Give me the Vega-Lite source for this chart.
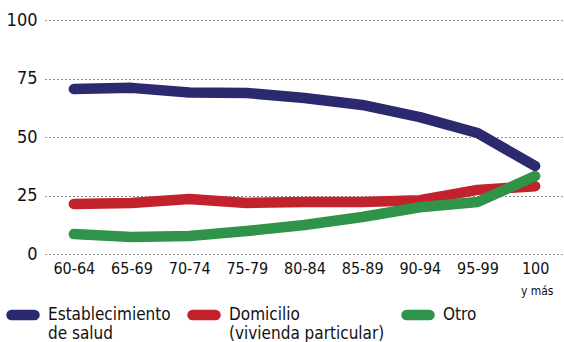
{
  "$schema": "https://vega.github.io/schema/vega-lite/v6.json",
  "width": 519,
  "height": 234,
  "autosize": "none",
  "padding": {"left": 45, "top": 20, "right": 0, "bottom": 88},
  "background": "white",
  "config": {
    "view": {"stroke": null},
    "font": "DejaVu Sans Condensed"
  },
  "data": {
    "values": [
      {"edad": "60-64", "serie": "Establecimiento de salud", "valor": 70.5},
      {"edad": "65-69", "serie": "Establecimiento de salud", "valor": 71},
      {"edad": "70-74", "serie": "Establecimiento de salud", "valor": 69},
      {"edad": "75-79", "serie": "Establecimiento de salud", "valor": 68.8},
      {"edad": "80-84", "serie": "Establecimiento de salud", "valor": 66.7},
      {"edad": "85-89", "serie": "Establecimiento de salud", "valor": 63.7},
      {"edad": "90-94", "serie": "Establecimiento de salud", "valor": 58.5},
      {"edad": "95-99", "serie": "Establecimiento de salud", "valor": 51.7},
      {"edad": "100", "serie": "Establecimiento de salud", "valor": 37.6},
      {"edad": "60-64", "serie": "Domicilio (vivienda particular)", "valor": 21.4},
      {"edad": "65-69", "serie": "Domicilio (vivienda particular)", "valor": 21.8},
      {"edad": "70-74", "serie": "Domicilio (vivienda particular)", "valor": 23.5},
      {"edad": "75-79", "serie": "Domicilio (vivienda particular)", "valor": 21.8},
      {"edad": "80-84", "serie": "Domicilio (vivienda particular)", "valor": 22.2},
      {"edad": "85-89", "serie": "Domicilio (vivienda particular)", "valor": 22.2},
      {"edad": "90-94", "serie": "Domicilio (vivienda particular)", "valor": 23},
      {"edad": "95-99", "serie": "Domicilio (vivienda particular)", "valor": 27.4},
      {"edad": "100", "serie": "Domicilio (vivienda particular)", "valor": 29},
      {"edad": "60-64", "serie": "Otro", "valor": 8.5},
      {"edad": "65-69", "serie": "Otro", "valor": 7.3},
      {"edad": "70-74", "serie": "Otro", "valor": 7.7},
      {"edad": "75-79", "serie": "Otro", "valor": 9.8},
      {"edad": "80-84", "serie": "Otro", "valor": 12.4},
      {"edad": "85-89", "serie": "Otro", "valor": 15.8},
      {"edad": "90-94", "serie": "Otro", "valor": 20},
      {"edad": "95-99", "serie": "Otro", "valor": 22.2},
      {"edad": "100", "serie": "Otro", "valor": 33.3}
    ]
  },
  "layer": [
    {
      "mark": {"type": "line", "strokeWidth": 10.5, "strokeCap": "round", "strokeJoin": "round"},
      "encoding": {
        "x": {
          "field": "edad", "type": "ordinal", "sort": null,
          "scale": {"type": "point", "padding": 0.5, "domain": ["60-64", "65-69", "70-74", "75-79", "80-84", "85-89", "90-94", "95-99", "100"]},
          "axis": {
            "title": null, "domain": false, "ticks": false, "grid": false,
            "labelAngle": 0, "labelFontSize": 16, "labelColor": "#111", "labelPadding": 6
          }
        },
        "y": {
          "field": "valor", "type": "quantitative",
          "scale": {"domain": [0, 100]},
          "axis": {
            "title": null, "values": [0, 25, 50, 75, 100], "domain": false, "ticks": false,
            "grid": true, "gridColor": "#222", "gridDash": [1, 3], "gridWidth": 1,
            "labelFontSize": 18, "labelColor": "#111", "labelPadding": 8
          }
        },
        "color": {
          "field": "serie", "type": "nominal", "sort": null,
          "scale": {
            "domain": ["Establecimiento de salud", "Domicilio (vivienda particular)", "Otro"],
            "range": ["#2b2a6e", "#c1222b", "#2f944a"]
          },
          "legend": {
            "title": null, "orient": "none", "direction": "horizontal", "columns": 3,
            "legendX": -39, "legendY": 278, "gridAlign": "none", "columnPadding": 0,
            "symbolType": "stroke", "symbolStrokeWidth": 10.5, "symbolSize": 529,
            "labelFontSize": 17, "labelColor": "#111", "labelOffset": 8, "labelBaseline": "top",
            "labelLimit": 300,
            "labelExpr": "datum.label == 'Establecimiento de salud' ? ['Establecimiento','de salud'] : datum.label == 'Domicilio (vivienda particular)' ? ['Domicilio','(vivienda particular)'] : datum.label",
            "encode": {
              "symbols": {"update": {"strokeCap": {"value": "round"}}},
              "labels": {"update": {"dy": {"value": -8}}}
            }
          }
        }
      }
    },
    {
      "data": {"values": [{"edad": "100", "valor": 0, "nota": "y más"}]},
      "mark": {"type": "text", "fontSize": 12, "dy": 37, "dx": 2, "color": "#111"},
      "encoding": {
        "x": {"field": "edad", "type": "ordinal"},
        "y": {"field": "valor", "type": "quantitative"},
        "text": {"field": "nota"}
      }
    }
  ]
}
